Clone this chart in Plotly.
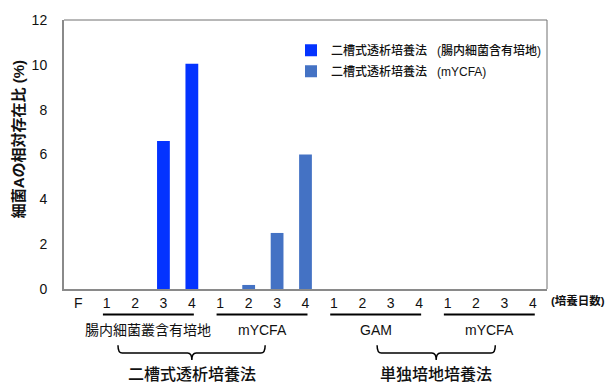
import plotly.graph_objects as go

# Category labels along the x axis (F = inoculum, then culture days per condition)
categories = ["F", "1", "2", "3", "4", "1", "2", "3", "4",
              "1", "2", "3", "4", "1", "2", "3", "4"]

# Relative abundance of bacterium A (%) for the two dialysis-culture series
series1_name = "二槽式透析培養法\u00a0\u00a0\u00a0(腸内細菌含有培地)"
series1_idx = [1, 2, 3, 4]
series1_vals = [0.0, 0.0, 6.6, 10.05]

series2_name = "二槽式透析培養法\u00a0\u00a0\u00a0(mYCFA)"
series2_idx = [5, 6, 7, 8]
series2_vals = [0.0, 0.18, 2.5, 6.0]

# Group captions under the day ticks
groups = [
    ("腸内細菌叢含有培地", 1, 4),
    ("mYCFA", 5, 8),
    ("GAM", 9, 12),
    ("mYCFA", 13, 16),
]
# Second-level brackets: (caption, left x, right x, centre x) in category units
brackets = [
    ("二槽式透析培養法", 1.40, 6.58, 4.0),
    ("単独培地培養法", 10.52, 14.68, 12.6),
]

y_ticks = [0, 2, 4, 6, 8, 10, 12]

W, H = 609, 385
ML, MR, MT, MB = 64, 62, 16, 96
PH = H - MT - MB

FONT = "Liberation Sans, Arial, Noto Sans CJK JP, sans-serif"
CJK = "Noto Sans CJK JP, Liberation Sans, sans-serif"


def py(pix):
    """Convert a pixel row (from top of page) into paper y."""
    return (H - MB - pix) / PH


def px(pix):
    return (pix - ML) / (W - ML - MR)


fig = go.Figure()
fig.add_trace(go.Bar(
    x=series1_idx, y=series1_vals, name=series1_name,
    marker=dict(color="#0433FF", line=dict(width=0)), width=0.45,
    legendgroup="a",
))
fig.add_trace(go.Bar(
    x=series2_idx, y=series2_vals, name=series2_name,
    marker=dict(color="#4472C4", line=dict(width=0)), width=0.45,
    legendgroup="b",
))

shapes = []
annotations = []

# thin top / right frame lines
shapes.append(dict(type="line", xref="paper", yref="paper", x0=0, x1=1, y0=1, y1=1,
                   line=dict(color="#707070", width=1)))
shapes.append(dict(type="line", xref="paper", yref="paper", x0=1, x1=1, y0=0, y1=1,
                   line=dict(color="#707070", width=1)))

# group underlines and captions
for label, a, b in groups:
    shapes.append(dict(type="line", xref="x", yref="paper",
                       x0=a - 0.13, x1=b + 0.07, y0=py(315), y1=py(315),
                       line=dict(color="black", width=2)))
    annotations.append(dict(xref="x", yref="paper", x=(a + b) / 2 - 0.03, y=py(331),
                            text=label, showarrow=False, xanchor="center", yanchor="middle",
                            font=dict(size=14, color="#111", family=FONT)))

# curly-style brackets with captions
yt, yb, ytip = py(346), py(354), py(361)
for label, x1, x2, xc in brackets:
    dx = 0.15
    path = (f"M {x1},{yt} Q {x1},{yb} {x1 + dx},{yb} "
            f"L {xc - dx},{yb} Q {xc},{yb} {xc},{ytip} "
            f"Q {xc},{yb} {xc + dx},{yb} "
            f"L {x2 - dx},{yb} Q {x2},{yb} {x2},{yt}")
    shapes.append(dict(type="path", xref="x", yref="paper", path=path,
                       line=dict(color="black", width=1.5)))
    annotations.append(dict(xref="x", yref="paper", x=xc, y=py(374),
                            text=label, showarrow=False,
                            xanchor="center", yanchor="middle",
                            font=dict(size=16, color="#111", family=CJK, weight=500)))

# x-axis unit note
annotations.append(dict(xref="paper", yref="paper", x=px(578), y=py(301),
                        text="<b>(培養日数)</b>", showarrow=False,
                        xanchor="center", yanchor="middle",
                        font=dict(size=11.5, color="#111", family=FONT)))

# y-axis title
annotations.append(dict(xref="paper", yref="paper", x=px(18), y=py(137),
                        text="<b>細菌Aの相対存在比 (%)</b>", showarrow=False, textangle=-90,
                        xanchor="center", yanchor="middle",
                        font=dict(size=15, color="#111", family=FONT)))

fig.update_layout(
    width=W, height=H,
    margin=dict(l=ML, r=MR, t=MT, b=MB, pad=0),
    plot_bgcolor="white", paper_bgcolor="white",
    barmode="overlay",
    font=dict(family=FONT, color="#111"),
    showlegend=True,
    legend=dict(x=px(291), y=py(32), xanchor="left", yanchor="top",
                bgcolor="rgba(0,0,0,0)",
                font=dict(size=12, family=FONT, color="#111", weight=500),
                traceorder="grouped", tracegroupgap=2),
    xaxis=dict(range=[-0.5, len(categories) - 0.5],
               tickvals=list(range(len(categories))), ticktext=categories,
               tickfont=dict(size=14), ticks="", showgrid=False, zeroline=False,
               showline=True, linecolor="#8a8a8a", linewidth=2),
    yaxis=dict(range=[0, 12], tickvals=y_ticks, tickfont=dict(size=14),
               ticks="outside", ticklen=12, tickcolor="rgba(0,0,0,0)",
               showgrid=False, zeroline=False,
               showline=True, linecolor="#8a8a8a", linewidth=2),
    shapes=shapes, annotations=annotations,
)

fig.write_html("out.html")
